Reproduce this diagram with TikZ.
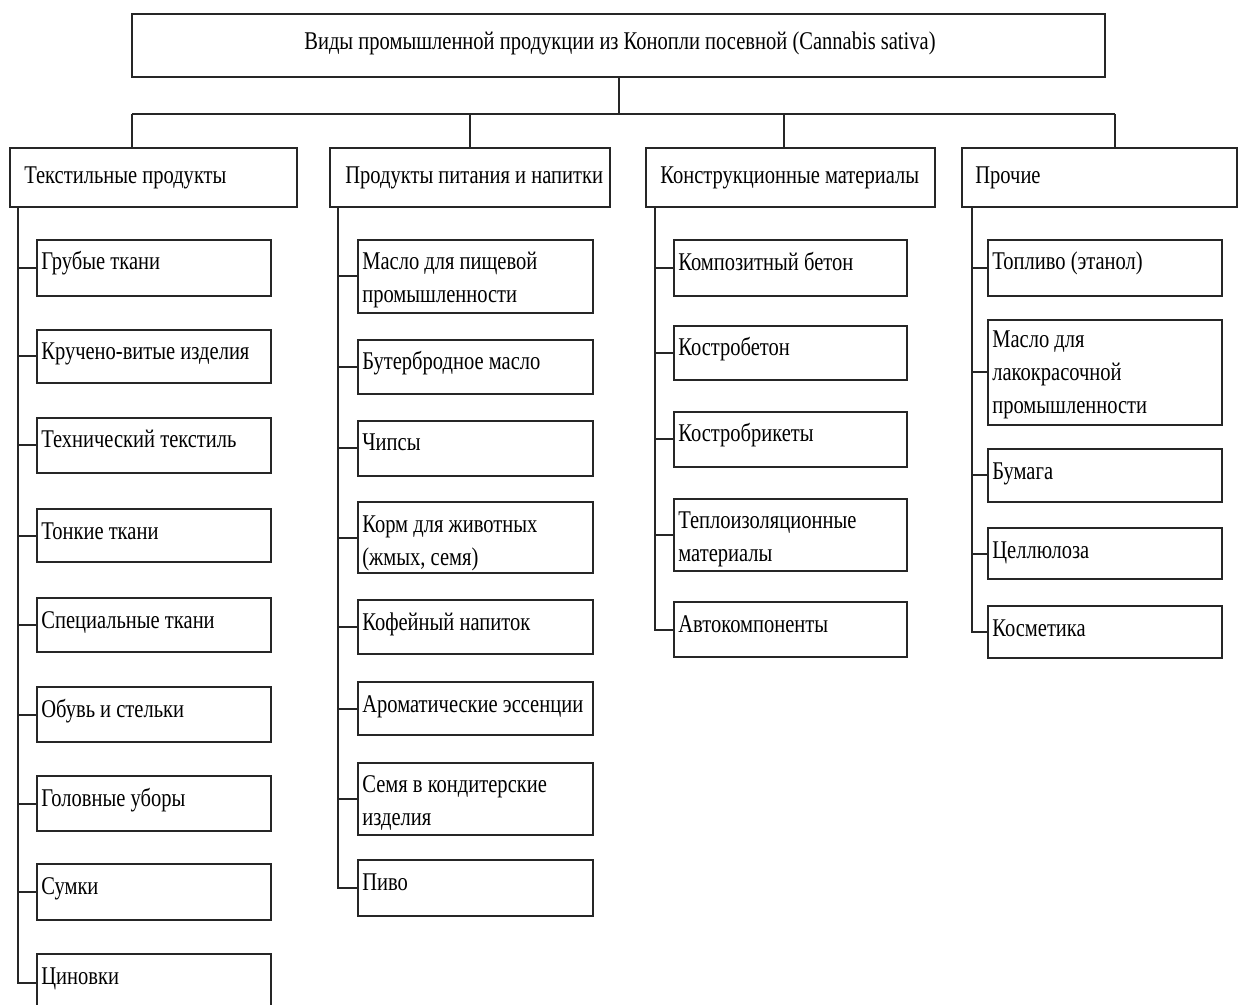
\documentclass[tikz,border=0pt]{standalone}
\usepackage{fontspec}
\setmainfont[FakeStretch=0.805]{Liberation Serif}
\tikzset{
  box/.style={draw=black!85, line width=1.2pt, inner sep=0pt, fill=white},
  txt/.style={inner sep=0pt, anchor=base west, font=\fontsize{15.3pt}{19.8pt}\selectfont},
  ln/.style={draw=black!85, line width=1.2pt}
}
\newcommand\lns[1]{\begin{tabular}[t]{@{}l@{}}#1\end{tabular}}
% name x1 y1 x2 y2 dx dy text
\newcommand\bx[8]{%
  \node[box, minimum width={(#4-#2)*0.6pt}, minimum height={(#5-#3)*0.6pt}] (#1) at ({(#2+#4)/2},{(#3+#5)/2}) {};
  \node[txt] (#1-t) at ({#2+#6},{#3+#7}) {\lns{#8}};}
\begin{document}
\begin{tikzpicture}[x=0.6pt,y=-0.6pt]
\clip (0,0) rectangle (1240,1005);
\fill[white] (0,0) rectangle (1240,1005);
% top
\node[box, minimum width={(1105-132)*0.6pt}, minimum height={(77-14)*0.6pt}] (top) at ({(132+1105)/2},{(14+77)/2}) {};
\node[txt, anchor=base] (top-t) at (620,50) {Виды промышленной продукции из Конопли посевной (Cannabis sativa)};
% categories
\bx{tex}{10}{148}{297}{207}{14}{36}{Текстильные продукты}
\bx{food}{330}{148}{610}{207}{15}{36}{Продукты питания и напитки}
\bx{con}{646}{148}{935}{207}{14}{36}{Конструкционные материалы}
\bx{oth}{962}{148}{1237}{207}{13}{36}{Прочие}
% textile
\bx{t1}{37}{240}{271}{296}{4}{30}{Грубые ткани}
\bx{t2}{37}{330}{271}{383}{4}{30}{Кручено-витые изделия}
\bx{t3}{37}{418}{271}{473}{4}{30}{Технический текстиль}
\bx{t4}{37}{509}{271}{562}{4}{30}{Тонкие ткани}
\bx{t5}{37}{598}{271}{652}{4}{30}{Специальные ткани}
\bx{t6}{37}{687}{271}{742}{4}{30}{Обувь и стельки}
\bx{t7}{37}{776}{271}{831}{4}{30}{Головные уборы}
\bx{t8}{37}{864}{271}{920}{4}{30}{Сумки}
\bx{t9}{37}{954}{271}{1012}{4}{30}{Циновки}
% food
\bx{f1}{358}{240}{593}{313}{4}{30}{Масло для пищевой\\промышленности}
\bx{f2}{358}{340}{593}{394}{4}{30}{Бутербродное масло}
\bx{f3}{358}{421}{593}{476}{4}{30}{Чипсы}
\bx{f4}{358}{502}{593}{573}{4}{30}{Корм для животных\\(жмых, семя)}
\bx{f5}{358}{600}{593}{654}{4}{30}{Кофейный напиток}
\bx{f6}{358}{682}{593}{735}{4}{30}{Ароматические эссенции}
\bx{f7}{358}{763}{593}{835}{4}{29}{Семя в кондитерские\\изделия}
\bx{f8}{358}{860}{593}{916}{4}{30}{Пиво}
% construction
\bx{c1}{674}{240}{907}{296}{4}{31}{Композитный бетон}
\bx{c2}{674}{326}{907}{380}{4}{30}{Костробетон}
\bx{c3}{674}{412}{907}{467}{4}{30}{Костробрикеты}
\bx{c4}{674}{499}{907}{571}{4}{30}{Теплоизоляционные\\материалы}
\bx{c5}{674}{602}{907}{657}{4}{30}{Автокомпоненты}
% other
\bx{o1}{988}{240}{1222}{296}{4}{30}{Топливо (этанол)}
\bx{o2}{988}{320}{1222}{425}{4}{28}{Масло для\\лакокрасочной\\промышленности}
\bx{o3}{988}{449}{1222}{502}{4}{30}{Бумага}
\bx{o4}{988}{528}{1222}{579}{4}{30}{Целлюлоза}
\bx{o5}{988}{606}{1222}{658}{4}{30}{Косметика}
% top connectors
\coordinate (bL) at (132,114);
\coordinate (bR) at (1115,114);
\coordinate (bC) at (784,114);
\draw[ln] (top.south) -- (top.south |- bL);
\draw[ln] (bL) -- (bR);
\draw[ln] (bL) -- (bL |- tex.north);
\draw[ln] (food.north |- bL) -- (food.north);
\draw[ln] (bC) -- (bC |- con.north);
\draw[ln] (bR) -- (bR |- oth.north);
% spines
\coordinate (sT) at ([xshift=5.4pt]tex.south west);
\coordinate (sF) at ([xshift=5.4pt]food.south west);
\coordinate (sC) at ([xshift=6pt]con.south west);
\coordinate (sO) at ([xshift=6.6pt]oth.south west);
\draw[ln] (sT) |- (t9.west);
\foreach \i in {1,...,8} \draw[ln] (sT |- t\i.west) -- (t\i.west);
\draw[ln] (sF) |- (f8.west);
\foreach \i in {1,...,7} \draw[ln] (sF |- f\i.west) -- (f\i.west);
\draw[ln] (sC) |- (c5.west);
\foreach \i in {1,...,4} \draw[ln] (sC |- c\i.west) -- (c\i.west);
\draw[ln] (sO) |- (o5.west);
\foreach \i in {1,...,4} \draw[ln] (sO |- o\i.west) -- (o\i.west);
\end{tikzpicture}
\end{document}
